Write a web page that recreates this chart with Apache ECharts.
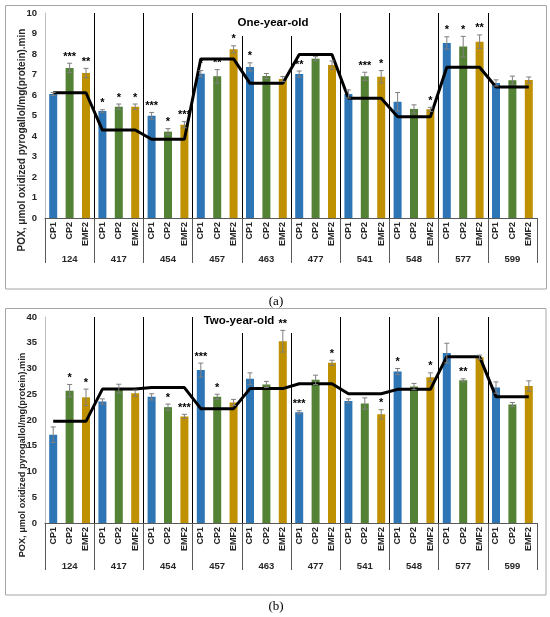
<!DOCTYPE html>
<html lang="en">
<head>
<meta charset="UTF-8">
<title>POX activity</title>
<style>
    html, body { margin: 0; padding: 0; background: #fff; }
    #chart { width: 550px; height: 617px; }
</style>
<script src="https://cdn.jsdelivr.net/npm/echarts@6.0.0/dist/echarts.min.js"></script>
</head>
<body>
<div id="chart"></div>
<script>
    // groups (varieties) and treatments
    var groups = ['124', '417', '454', '457', '463', '477', '541', '548', '577', '599'];
    var treatments = ['CP1', 'CP2', 'EMF2'];
    var colors = ['#2e75b6', '#548235', '#bf9000'];

    // (a) one-year-old
    var cp1A = [6.05, 5.22, 4.99, 7.04, 7.37, 7.02, 6.05, 5.67, 8.54, 6.59];
    var cp1ErrA = [0.07, 0.06, 0.16, 0.15, 0.2, 0.15, 0.2, 0.45, 0.3, 0.15];
    var cp2A = [7.32, 5.43, 4.21, 6.91, 6.93, 7.77, 6.91, 5.32, 8.36, 6.72];
    var cp2ErrA = [0.23, 0.13, 0.15, 0.33, 0.12, 0.1, 0.2, 0.2, 0.5, 0.2];
    var emf2A = [7.07, 5.43, 4.55, 8.23, 6.78, 7.46, 6.89, 5.30, 8.6, 6.73];
    var emf2ErrA = [0.23, 0.13, 0.15, 0.17, 0.12, 0.2, 0.3, 0.1, 0.33, 0.15];
    var controlA = [6.11, 4.29, 3.84, 7.76, 6.57, 7.98, 5.84, 4.94, 7.35, 6.39];
    var starsA = ['', '***', '**', '*', '*', '*', '***', '*', '***', '*', '**', '*',
                  '*', '', '', '**', '', '', '', '***', '*', '', '', '*',
                  '*', '*', '**', '', '', ''];

    // (b) two-year-old
    var cp1B = [17.15, 23.6, 24.5, 29.7, 28.0, 21.5, 23.7, 29.4, 33.0, 26.3];
    var cp1ErrB = [1.5, 0.5, 0.6, 1.35, 1.15, 0.3, 0.4, 0.6, 1.9, 1.1];
    var cp2B = [25.7, 26.1, 22.5, 24.5, 26.9, 27.8, 23.2, 26.5, 27.7, 23.0];
    var cp2ErrB = [1.2, 0.85, 0.6, 0.5, 0.6, 0.9, 1.1, 0.6, 0.3, 0.4];
    var emf2B = [24.4, 25.2, 20.7, 23.4, 35.3, 31.1, 21.1, 28.3, 32.2, 26.6];
    var emf2ErrB = [1.6, 0.6, 0.4, 0.6, 2.1, 0.5, 0.9, 0.85, 0.4, 1.0];
    var controlB = [19.74, 26.0, 26.3, 22.2, 26.1, 27.05, 25.1, 25.95, 32.3, 24.5];
    var starsB = ['', '*', '*', '', '', '', '', '*', '***', '***', '*', '',
                  '', '', '**', '***', '', '*', '', '', '*', '*', '', '*',
                  '', '**', '', '', '', ''];

    var yTitle = 'POX, \u03bcmol oxidized pyrogallol/mg(protein).min';
    var FONT = '"Liberation Sans", Arial, sans-serif';

    function interleave(a, b, c) {
        var out = [];
        for (var i = 0; i < a.length; i++) out.push(a[i], b[i], c[i]);
        return out;
    }

    function repeat3(arr) {
        var out = [];
        arr.forEach(function (v) { out.push(v, v, v); });
        return out;
    }

    var cats = [];
    groups.forEach(function () { cats = cats.concat(treatments); });

    function makeErrRender(stars) {
        return function (params, api) {
            var x = api.value(0), v = api.value(1), e = api.value(2);
            var top = api.coord([x, v + e]);
            var bot = api.coord([x, v - e]);
            var w = 2.5;
            var st = { stroke: '#7f7f7f', lineWidth: 1 };
            var children = [
                { type: 'line', shape: { x1: top[0], y1: top[1], x2: bot[0], y2: bot[1] }, style: st },
                { type: 'line', shape: { x1: top[0] - w, y1: top[1], x2: top[0] + w, y2: top[1] }, style: st },
                { type: 'line', shape: { x1: bot[0] - w, y1: bot[1], x2: bot[0] + w, y2: bot[1] }, style: st }
            ];
            var s = stars[params.dataIndex];
            if (s) {
                children.push({
                    type: 'text', x: top[0], y: top[1] - 1,
                    style: { text: s, fill: '#000', font: 'bold 11px ' + FONT, align: 'center', verticalAlign: 'bottom' }
                });
            }
            return { type: 'group', children: children };
        };
    }

    function panelSeries(k, a, b, c, ea, eb, ec, control, stars) {
        var vals = interleave(a, b, c);
        var errs = interleave(ea, eb, ec);
        var barData = vals.map(function (v, i) {
            return { value: v, itemStyle: { color: colors[i % 3] } };
        });
        var errData = vals.map(function (v, i) { return [i, v, errs[i]]; });
        return [
            {
                type: 'bar', xAxisIndex: k * 2, yAxisIndex: k, data: barData,
                barWidth: 8, silent: true, z: 2
            },
            {
                type: 'line', xAxisIndex: k * 2, yAxisIndex: k, data: repeat3(control),
                symbol: 'none', lineStyle: { color: '#000', width: 3 }, silent: true, z: 4
            },
            {
                type: 'custom', xAxisIndex: k * 2, yAxisIndex: k, data: errData,
                renderItem: makeErrRender(stars), silent: true, z: 30
            }
        ];
    }

    function xAxes(k, tickLen) {
        return [
            {
                type: 'category', gridIndex: k, data: cats, position: 'bottom',
                axisLine: { show: true, lineStyle: { color: '#595959', width: 1 } },
                axisTick: { show: false },
                axisLabel: { interval: 0, rotate: 90, margin: 4, fontSize: 9, fontWeight: 'bold', color: '#262626', fontFamily: FONT },
                splitLine: { show: false }
            },
            {
                type: 'category', gridIndex: k, data: groups, position: 'bottom',
                axisLine: { show: false },
                axisTick: { show: true, interval: 0, length: tickLen, lineStyle: { color: '#595959', width: 1 } },
                axisLabel: { interval: 0, margin: tickLen - 9, fontSize: 9.5, fontWeight: 'bold', color: '#262626', fontFamily: FONT },
                splitLine: { show: true, interval: 0, showMinLine: false, showMaxLine: false, lineStyle: { color: '#000', width: 1 } }
            }
        ];
    }

    function yAxis(k, max, step) {
        return {
            type: 'value', gridIndex: k, min: 0, max: max, interval: step,
            axisLine: { show: true, lineStyle: { color: '#bfbfbf' } },
            axisTick: { show: false },
            splitLine: { show: false },
            axisLabel: { fontSize: 9.5, fontWeight: 'bold', color: '#262626', margin: 8, fontFamily: FONT }
        };
    }

    var chart = echarts.init(document.getElementById('chart'));

    var option = {
        animation: false,
        backgroundColor: '#fff',
        grid: [
            { left: 45, right: 13, top: 13, height: 205, outerBoundsMode: 'none' },
            { left: 45, right: 13, top: 317, height: 206, outerBoundsMode: 'none' }
        ],
        xAxis: xAxes(0, 45).concat(xAxes(1, 47)),
        yAxis: [yAxis(0, 10, 1), yAxis(1, 40, 5)],
        graphic: [
            { type: 'rect', shape: { x: 5.5, y: 5.5, width: 541, height: 283.5 }, style: { fill: 'none', stroke: '#a6a6a6', lineWidth: 1 }, z: 1 },
            { type: 'rect', shape: { x: 5.5, y: 308.5, width: 540.5, height: 286.5 }, style: { fill: 'none', stroke: '#a6a6a6', lineWidth: 1 }, z: 1 },
            { type: 'rect', shape: { x: 234, y: 12, width: 80, height: 24 }, style: { fill: '#fff' }, z: 20 },
            { type: 'rect', shape: { x: 199, y: 316, width: 97, height: 17 }, style: { fill: '#fff' }, z: 20 },
            { type: 'text', x: 273, y: 23, style: { text: 'One-year-old', font: 'bold 11.5px ' + FONT, fill: '#000', align: 'center', verticalAlign: 'middle' }, z: 21 },
            { type: 'text', x: 239, y: 321, style: { text: 'Two-year-old', font: 'bold 11.5px ' + FONT, fill: '#000', align: 'center', verticalAlign: 'middle' }, z: 21 },
            { type: 'text', x: 22, y: 140, rotation: Math.PI / 2, style: { text: yTitle, font: 'bold 10px ' + FONT, fill: '#262626', align: 'center', verticalAlign: 'middle' }, z: 21 },
            { type: 'text', x: 22, y: 455, rotation: Math.PI / 2, style: { text: yTitle, font: 'bold 9.2px ' + FONT, fill: '#262626', align: 'center', verticalAlign: 'middle' }, z: 21 },
            { type: 'text', x: 276, y: 302, style: { text: '(a)', font: '13px "Liberation Serif", serif', fill: '#000', align: 'center', verticalAlign: 'middle' }, z: 21 },
            { type: 'text', x: 276, y: 607, style: { text: '(b)', font: '13px "Liberation Serif", serif', fill: '#000', align: 'center', verticalAlign: 'middle' }, z: 21 }
        ],
        series: panelSeries(0, cp1A, cp2A, emf2A, cp1ErrA, cp2ErrA, emf2ErrA, controlA, starsA)
            .concat(panelSeries(1, cp1B, cp2B, emf2B, cp1ErrB, cp2ErrB, emf2ErrB, controlB, starsB))
    };

    chart.setOption(option);
</script>
</body>
</html>
